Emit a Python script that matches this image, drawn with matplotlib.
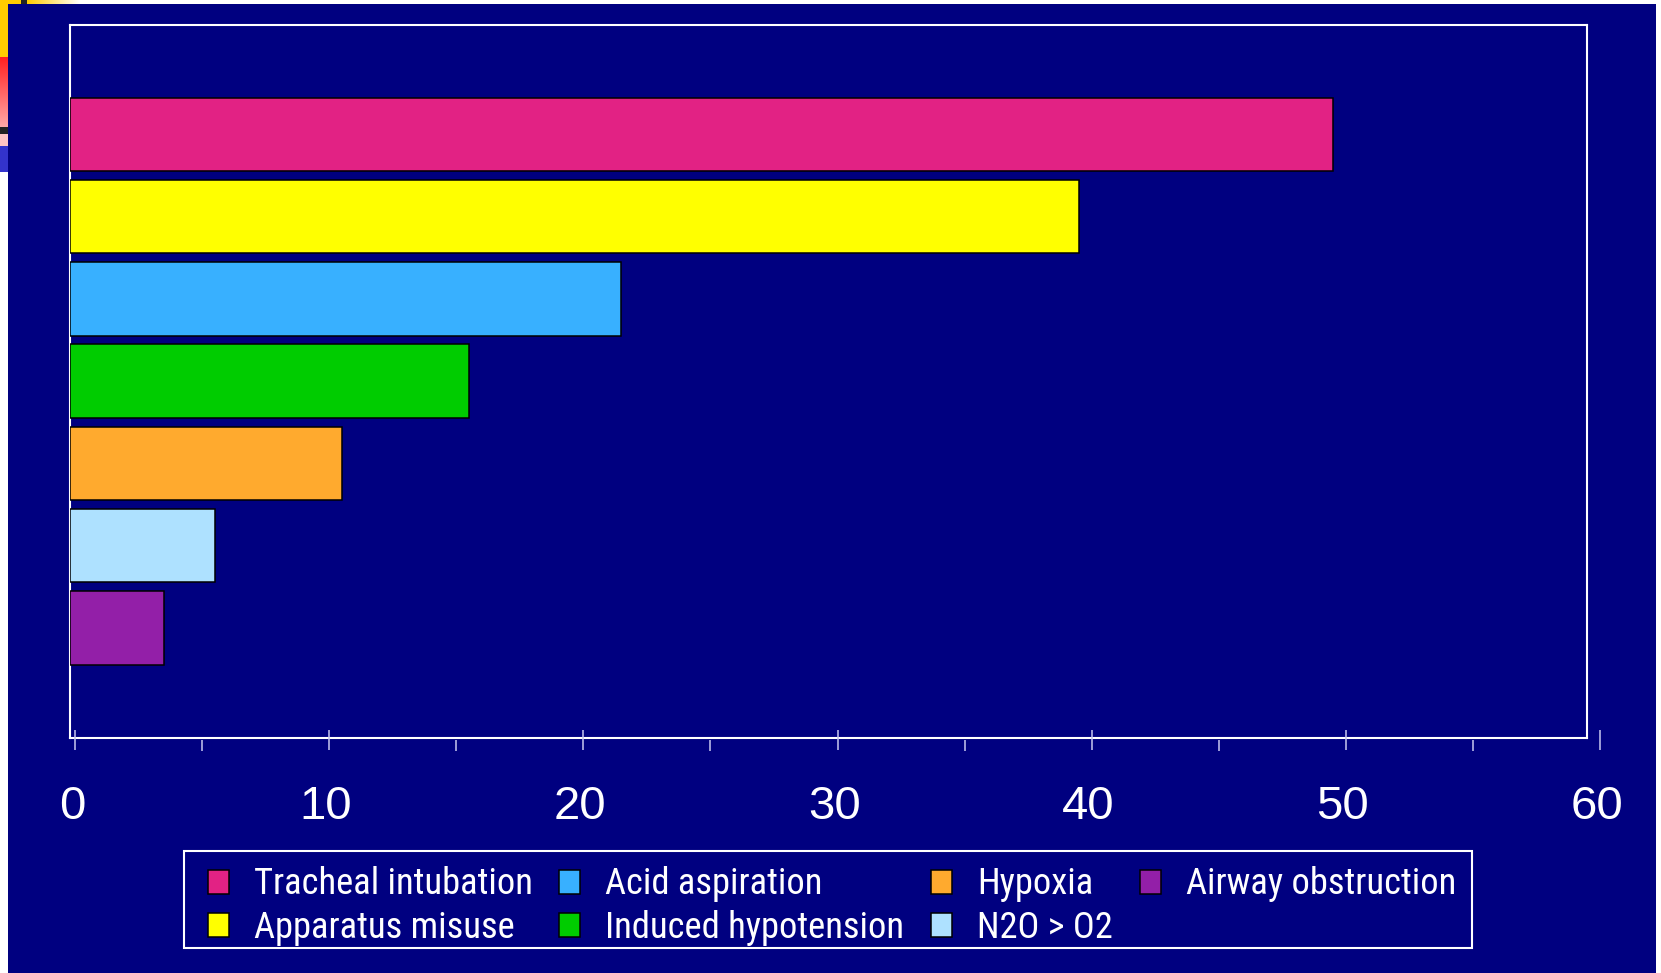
import matplotlib
matplotlib.use("Agg")
import os
import matplotlib.pyplot as plt
import numpy as np
from matplotlib.patches import Rectangle, Patch
from matplotlib.colors import LinearSegmentedColormap
from matplotlib import font_manager as fm
from matplotlib.font_manager import FontProperties
from matplotlib.textpath import TextPath
from matplotlib.transforms import ScaledTranslation

# ---------------- data ----------------
categories = ["Tracheal intubation", "Apparatus misuse", "Acid aspiration",
              "Induced hypotension", "Hypoxia", "N2O > O2", "Airway obstruction"]
values = [49.5, 39.5, 21.5, 15.5, 10.5, 5.5, 3.5]
colors = ["#E22284", "#FFFF00", "#38B0FF", "#00CC00", "#FFAA2E", "#AEE1FF", "#931FA8"]
major_ticks = [0, 10, 20, 30, 40, 50, 60]
minor_ticks = [5, 15, 25, 35, 45, 55]
tick_labels = ["0", "10", "20", "30", "40", "50", "60"]

# ---------------- style ----------------
W, H, DPI = 1661, 973, 100
NAVY = "#000080"
plt.rcParams["font.family"] = ["Liberation Sans", "DejaVu Sans"]

# pick a narrow sans font for the legend if one is installed
legend_fp = None
prefs = ["LiberationSansNarrow-Regular", "RobotoCondensed-Regular", "NotoSans-Condensed.",
         "NotoSans-CondensedRegular", "DejaVuSansCondensed.", "NotoSans-SemiCondensed."]
files = [f.fname for f in fm.fontManager.ttflist]
for p in prefs:
    hits = [f for f in files if p in os.path.basename(f)]
    if hits:
        legend_fp = FontProperties(fname=hits[0])
        break
if legend_fp is None:
    legend_fp = FontProperties(family=["Liberation Sans", "DejaVu Sans"])

# size the legend font so "Tracheal intubation" spans ~275 px like the original
w10 = TextPath((0, 0), categories[0], size=10, prop=legend_fp).get_extents().width * DPI / 72
leg_size = 10 * 275.0 / w10
legend_fp.set_size(leg_size)
fs_px = leg_size * DPI / 72

fig = plt.figure(figsize=(W / DPI, H / DPI), dpi=DPI, facecolor="white")


def fbox(x0, y0, x1, y1):
    """pixel box (top-left origin) -> figure fraction [l, b, w, h]"""
    return [x0 / W, 1 - y1 / H, (x1 - x0) / W, (y1 - y0) / H]


def frect(x0, y0, x1, y1, color, z=-5, edge="none", lw=0):
    l, b, w, h = fbox(x0, y0, x1, y1)
    fig.add_artist(Rectangle((l, b), w, h, transform=fig.transFigure,
                             facecolor=color, edgecolor=edge, linewidth=lw, zorder=z))


def fgrad(x0, y0, x1, y1, c0, c1, horizontal=True):
    a = fig.add_axes(fbox(x0, y0, x1, y1), zorder=-4)
    cmap = LinearSegmentedColormap.from_list("g", [c0, c1])
    g = np.linspace(0, 1, 256)
    img = g[None, :] if horizontal else g[:, None]
    a.imshow(img, aspect="auto", cmap=cmap, extent=(0, 1, 0, 1), origin="upper")
    a.set_axis_off()


# slide background
frect(8, 4, 1656, 973, NAVY, z=-6)
# decorative corner strips
frect(0, 0, 21, 4, "#FFCC00")
frect(21, 0, 27, 4, "#222222")
fgrad(27, 0, 80, 4, "#FFCC00", "#FFFFFF", horizontal=True)
frect(0, 0, 8, 57, "#FFCC00")
fgrad(0, 57, 8, 127, "#FF2020", "#FFA8A8", horizontal=False)
frect(0, 127, 8, 134, "#222222")
frect(0, 134, 8, 146, "#FFC4C4")
frect(0, 146, 8, 172, "#3333CC")

# ---------------- main plot ----------------
px_per_unit = (1600 - 75) / 60.0
x_left = (70 - 75) / px_per_unit
x_right = (1587 - 75) / px_per_unit

ax = fig.add_axes(fbox(70, 24.5, 1587, 737.7))
ax.set_facecolor(NAVY)
ypos = np.arange(len(values))[::-1]
ax.barh(ypos, np.array(values) - x_left, left=x_left, height=0.893,
        color=colors, edgecolor="black", linewidth=1.1, zorder=3)
ax.set_xlim(x_left, x_right)
ax.set_ylim(-1.335, len(values) - 1 + 1.335)
ax.set_xticks([])
ax.set_yticks([])
for s in ax.spines.values():
    s.set_color("white")
    s.set_linewidth(1.5)

# tick axis (0..60 runs past the frame, as in the original)
ax2 = fig.add_axes(fbox(75, 739, 1600, 740))
ax2.set_facecolor("none")
ax2.set_xlim(0, 60)
ax2.set_xticks(major_ticks)
ax2.set_xticklabels(tick_labels)
ax2.set_xticks(minor_ticks, minor=True)
ax2.set_yticks([])
for s in ax2.spines.values():
    s.set_visible(False)
ax2.tick_params(axis="x", which="major", direction="inout", length=15, width=1.1,
                color="#C8C8F0", labelsize=34, labelcolor="white", pad=25)
ax2.tick_params(axis="x", which="minor", direction="out", length=8, width=1.1,
                color="#C8C8F0")
shift = ScaledTranslation(-3 / DPI, 0, fig.dpi_scale_trans)
for lab in ax2.get_xticklabels():
    lab.set_transform(lab.get_transform() + shift)

# ---------------- legend ----------------
# legend frame (as placed on the original slide)
frect(184.3, 850.6, 1472.4, 948, NAVY, z=4, edge="white", lw=1.5)
handles = [Patch(facecolor=c, edgecolor="black", linewidth=1.1) for c in colors]
leg = fig.legend(handles, categories, ncol=4, loc="upper left",
                 bbox_to_anchor=(207.6 / W, 1 - 866.5 / H), bbox_transform=fig.transFigure,
                 frameon=False, borderaxespad=0, borderpad=0,
                 prop=legend_fp, labelcolor="white",
                 handlelength=21 / fs_px, handleheight=23 / fs_px,
                 handletextpad=25 / fs_px, columnspacing=27 / fs_px,
                 labelspacing=0.2)
leg.set_zorder(5)

fig.savefig("out.png", dpi=DPI, facecolor=fig.get_facecolor())
